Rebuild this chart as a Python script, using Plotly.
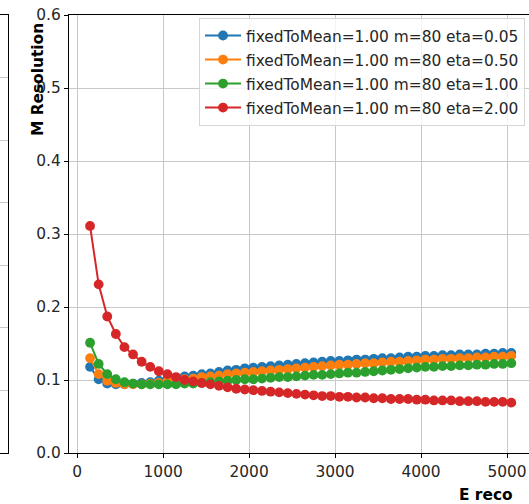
import plotly.graph_objects as go

# Reconstructed energy bins (bin centres)
e_reco = [150, 250, 350, 450, 550, 650, 750, 850, 950, 1050,
          1150, 1250, 1350, 1450, 1550, 1650, 1750, 1850, 1950, 2050,
          2150, 2250, 2350, 2450, 2550, 2650, 2750, 2850, 2950, 3050,
          3150, 3250, 3350, 3450, 3550, 3650, 3750, 3850, 3950, 4050,
          4150, 4250, 4350, 4450, 4550, 4650, 4750, 4850, 4950, 5050]

res_eta_005 = [0.118, 0.101, 0.095, 0.094, 0.094, 0.095, 0.096, 0.097, 0.099, 0.101,
               0.103, 0.105, 0.106, 0.108, 0.109, 0.111, 0.113, 0.114, 0.116, 0.117,
               0.118, 0.119, 0.120, 0.121, 0.122, 0.123, 0.124, 0.125, 0.126, 0.126,
               0.127, 0.128, 0.128, 0.129, 0.130, 0.130, 0.131, 0.132, 0.132, 0.133,
               0.133, 0.134, 0.134, 0.135, 0.135, 0.135, 0.136, 0.136, 0.137, 0.137]

res_eta_050 = [0.130, 0.108, 0.099, 0.096, 0.094, 0.094, 0.094, 0.095, 0.096, 0.098,
               0.099, 0.101, 0.102, 0.104, 0.105, 0.106, 0.108, 0.109, 0.110, 0.111,
               0.112, 0.113, 0.114, 0.115, 0.116, 0.117, 0.118, 0.119, 0.120, 0.121,
               0.121, 0.122, 0.123, 0.123, 0.124, 0.125, 0.125, 0.126, 0.127, 0.128,
               0.128, 0.129, 0.129, 0.130, 0.130, 0.131, 0.131, 0.132, 0.132, 0.133]

res_eta_100 = [0.151, 0.122, 0.108, 0.101, 0.097, 0.095, 0.094, 0.094, 0.094, 0.094,
               0.094, 0.095, 0.095, 0.096, 0.097, 0.098, 0.099, 0.100, 0.101, 0.101,
               0.102, 0.103, 0.104, 0.104, 0.105, 0.106, 0.107, 0.107, 0.108, 0.109,
               0.110, 0.110, 0.111, 0.112, 0.113, 0.114, 0.115, 0.116, 0.117, 0.118,
               0.118, 0.119, 0.119, 0.120, 0.120, 0.121, 0.121, 0.122, 0.122, 0.123]

res_eta_200 = [0.311, 0.231, 0.187, 0.163, 0.145, 0.135, 0.125, 0.118, 0.112, 0.108,
               0.104, 0.100, 0.098, 0.096, 0.094, 0.092, 0.090, 0.088, 0.087, 0.086,
               0.085, 0.084, 0.083, 0.082, 0.081, 0.080, 0.079, 0.078, 0.078, 0.077,
               0.077, 0.076, 0.076, 0.075, 0.075, 0.074, 0.074, 0.074, 0.073, 0.073,
               0.072, 0.072, 0.072, 0.071, 0.071, 0.071, 0.070, 0.070, 0.070, 0.069]

series_names = ["fixedToMean=1.00 m=80 eta=0.05",
                "fixedToMean=1.00 m=80 eta=0.50",
                "fixedToMean=1.00 m=80 eta=1.00",
                "fixedToMean=1.00 m=80 eta=2.00"]
series_values = [res_eta_005, res_eta_050, res_eta_100, res_eta_200]
colors = ["#1f77b4", "#ff7f0e", "#2ca02c", "#d62728"]

# neighbouring panel: only its grid rows are visible at the left edge
side_rows = [0, 7]

W, H = 529, 504
L, T, B = 69, 15, 51          # main axes box (pixels)
FONT = "DejaVu Sans"
FS = 15.4
TXT = "#262626"
GRID = "#c8c8c8"
plot_h = H - T - B

fig = go.Figure()
for i, (name, vals, col) in enumerate(zip(series_names, series_values, colors)):
    fig.add_trace(go.Scatter(
        x=e_reco, y=vals, name=name, mode="lines+markers",
        legendgroup=f"g{i}",
        line=dict(color=col, width=2),
        marker=dict(color=col, size=9.8),
    ))

fig.add_trace(go.Scatter(x=[0, 1], y=side_rows, xaxis="x2", yaxis="y2",
                         mode="markers", showlegend=False, hoverinfo="skip",
                         marker=dict(opacity=0)))

fig.update_layout(
    width=W, height=H,
    margin=dict(l=0, r=0, t=T, b=B, pad=0),
    paper_bgcolor="white", plot_bgcolor="white",
    font=dict(family=FONT, size=FS, color=TXT),
    showlegend=True,
    legend=dict(
        x=525 / W, xanchor="right",
        y=1 - 3 / plot_h, yanchor="top",
        bgcolor="rgba(255,255,255,0.8)",
        bordercolor="#d6d6d6", borderwidth=1,
        font=dict(family=FONT, size=FS, color=TXT),
        traceorder="grouped", tracegroupgap=1,
        itemwidth=36,
    ),
    xaxis=dict(
        domain=[L / W, 1],
        range=[-95, (W - 77) / 0.086],
        tickvals=[0, 1000, 2000, 3000, 4000, 5000],
        ticks="outside", ticklen=4, tickcolor="black",
        showline=True, linecolor="black", linewidth=1.2, mirror=True,
        showgrid=True, gridcolor=GRID, gridwidth=1,
        zeroline=False,
        tickfont=dict(family=FONT, size=FS, color=TXT),
    ),
    yaxis=dict(
        range=[0, 0.6],
        tickvals=[0.0, 0.1, 0.2, 0.3, 0.4, 0.5, 0.6],
        tickformat=".1f",
        ticks="outside", ticklen=4, tickcolor="black",
        showline=True, linecolor="black", linewidth=1.2,
        showgrid=True, gridcolor=GRID, gridwidth=1,
        zeroline=False,
        tickfont=dict(family=FONT, size=FS, color=TXT),
    ),
    xaxis2=dict(
        domain=[0, 7.5 / W], anchor="y2", range=[0, 1],
        showticklabels=False, ticks="", showgrid=False, zeroline=False,
        showline=True, linecolor="black", linewidth=1.2, mirror=True,
    ),
    yaxis2=dict(
        anchor="x2", side="right", range=side_rows,
        tickvals=[1, 2, 3, 4, 5, 6],
        showticklabels=False, ticks="",
        showgrid=True, gridcolor=GRID, gridwidth=1, zeroline=False,
        showline=True, linecolor="black", linewidth=1.2,
    ),
    annotations=[
        dict(text="<b>M Resolution</b>", textangle=-90,
             xref="paper", yref="paper",
             x=38 / W, y=(H - B - 80) / plot_h,
             showarrow=False, font=dict(family=FONT, size=FS, color="black"),
             xanchor="center", yanchor="middle"),
        dict(text="<b>E reco</b>",
             xref="paper", yref="paper",
             x=486 / W, y=(H - B - 495) / plot_h,
             showarrow=False, font=dict(family=FONT, size=FS, color="black"),
             xanchor="center", yanchor="middle"),
    ],
)

fig.write_html("out.html")
